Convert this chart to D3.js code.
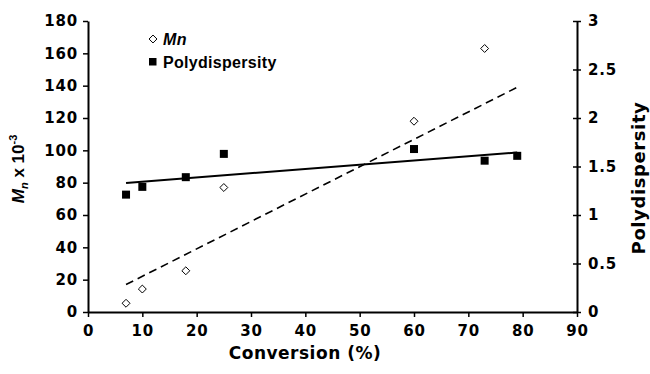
<!DOCTYPE html>
<html>
<head>
<meta charset="utf-8">
<script src="https://cdn.jsdelivr.net/npm/d3@7"></script>
<style>
  body { margin: 0; background: #fff; }
  text { font-weight: bold; fill: #000; }
</style>
</head>
<body>
<svg width="650" height="374"></svg>
<script>
// data
const mnConversion = [7, 10, 18, 25, 60, 73];
const mnValues = [5.4, 14.2, 25.5, 77, 118, 163];
const pdConversion = [7, 10, 18, 25, 60, 73, 79];
const pdValues = [1.21, 1.29, 1.39, 1.63, 1.68, 1.56, 1.61];

// trendline ends as drawn
const mnTrendX = [7, 79];
const mnTrendY = [17, 139];
const pdTrendX = [7, 79];
const pdTrendY = [1.33, 1.645];

const xTicks = [0, 10, 20, 30, 40, 50, 60, 70, 80, 90];
const yLeftTicks = [0, 20, 40, 60, 80, 100, 120, 140, 160, 180];
const yRightTicks = [0, 0.5, 1, 1.5, 2, 2.5, 3];

const svg = d3.select('svg');
const wideFont = '"DejaVu Sans", "Liberation Sans", sans-serif';
const plainFont = '"Liberation Sans", Arial, sans-serif';

// scales
const scaleX = d3.scaleLinear().domain([0, 90]).range([88, 577]);
const scaleY = d3.scaleLinear().domain([0, 180]).range([312, 21]);
const scaleY2 = d3.scaleLinear().domain([0, 3]).range([312, 21]);

// x axis
const axisX = d3.axisBottom(scaleX)
  .tickValues(xTicks)
  .tickSizeInner(5)
  .tickSizeOuter(0)
  .tickPadding(8);
const gx = svg.append('g')
  .attr('transform', 'translate(0, 312)')
  .call(axisX);

// left axis
const axisY = d3.axisLeft(scaleY)
  .tickValues(yLeftTicks)
  .tickSizeInner(5)
  .tickSizeOuter(0)
  .tickPadding(5);
const gy = svg.append('g')
  .attr('transform', 'translate(88, 0)')
  .call(axisY);

// right axis, ticks cross the line
const axisY2 = d3.axisRight(scaleY2)
  .tickValues(yRightTicks)
  .tickFormat(d3.format('~g'))
  .tickSizeInner(4)
  .tickSizeOuter(0)
  .tickPadding(7);
const gy2 = svg.append('g')
  .attr('transform', 'translate(577, 0)')
  .call(axisY2);
gy2.selectAll('.tick line').attr('x1', -4);

[gx, gy, gy2].forEach(g => {
  g.select('.domain').attr('stroke', '#000').attr('stroke-width', 2);
  g.selectAll('.tick line').attr('stroke', '#000').attr('stroke-width', 1.5);
  g.selectAll('.tick text')
    .style('font-family', wideFont)
    .style('font-size', '15px')
    .style('letter-spacing', '0.8px')
    .attr('fill', '#000');
});

// axis titles
svg.append('text')
  .attr('x', 305)
  .attr('y', 359)
  .attr('text-anchor', 'middle')
  .style('font-family', wideFont)
  .style('font-size', '17px')
  .style('letter-spacing', '0.5px')
  .text('Conversion (%)');

const leftTitle = svg.append('text')
  .attr('transform', 'translate(24, 169) rotate(-90)')
  .attr('text-anchor', 'middle')
  .style('font-family', plainFont)
  .style('font-size', '17px');
leftTitle.append('tspan').attr('font-style', 'italic').text('M');
leftTitle.append('tspan').attr('font-style', 'italic').attr('font-size', 11).attr('dy', 4).text('n');
leftTitle.append('tspan').attr('dy', -4).text(' x 10');
leftTitle.append('tspan').attr('font-size', 11).attr('dy', -7).text('-3');

svg.append('text')
  .attr('transform', 'translate(645, 178) rotate(-90)')
  .attr('text-anchor', 'middle')
  .style('font-family', wideFont)
  .style('font-size', '18px')
  .style('letter-spacing', '0.6px')
  .text('Polydispersity');

// trendlines
const lineMn = d3.line()
  .x(d => scaleX(d[0]))
  .y(d => scaleY(d[1]));
svg.append('path')
  .datum(d3.zip(mnTrendX, mnTrendY))
  .attr('d', lineMn)
  .attr('fill', 'none')
  .attr('stroke', '#000')
  .attr('stroke-width', 1.6)
  .attr('stroke-dasharray', '8,5');

const linePd = d3.line()
  .x(d => scaleX(d[0]))
  .y(d => scaleY2(d[1]));
svg.append('path')
  .datum(d3.zip(pdTrendX, pdTrendY))
  .attr('d', linePd)
  .attr('fill', 'none')
  .attr('stroke', '#000')
  .attr('stroke-width', 2);

// diamonds for Mn
const diamond = d3.symbol().type(d3.symbolDiamond2).size(40);
svg.selectAll('path.mn')
  .data(d3.zip(mnConversion, mnValues))
  .enter()
  .append('path')
  .attr('class', 'mn')
  .attr('d', diamond)
  .attr('transform', d => `translate(${scaleX(d[0])}, ${scaleY(d[1])})`)
  .attr('fill', '#fff')
  .attr('stroke', '#000')
  .attr('stroke-width', 1);

// squares for polydispersity
svg.selectAll('rect.pd')
  .data(d3.zip(pdConversion, pdValues))
  .enter()
  .append('rect')
  .attr('class', 'pd')
  .attr('x', d => scaleX(d[0]) - 4)
  .attr('y', d => scaleY2(d[1]) - 4)
  .attr('width', 8)
  .attr('height', 8)
  .attr('fill', '#000');

// legend
svg.append('path')
  .attr('d', diamond)
  .attr('transform', 'translate(153, 39)')
  .attr('fill', '#fff')
  .attr('stroke', '#000');
const legMn = svg.append('text')
  .attr('x', 163)
  .attr('y', 45)
  .style('font-family', plainFont)
  .style('font-size', '16px')
  .style('letter-spacing', '0.5px')
  .attr('font-style', 'italic');
legMn.append('tspan').text('M');
legMn.append('tspan').text('n');

svg.append('rect')
  .attr('x', 149)
  .attr('y', 58)
  .attr('width', 7.5)
  .attr('height', 7.5)
  .attr('fill', '#000');
svg.append('text')
  .attr('x', 163)
  .attr('y', 68)
  .style('font-family', plainFont)
  .style('font-size', '16px')
  .style('letter-spacing', '0.3px')
  .text('Polydispersity');
</script>
</body>
</html>
